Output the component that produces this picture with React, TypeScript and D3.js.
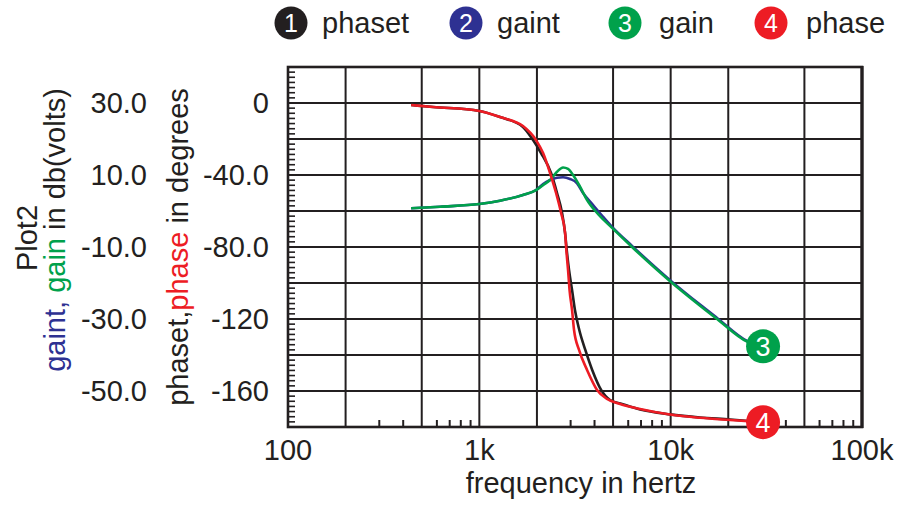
import React from "react";
import * as d3 from "d3";

// ---- data ----
const phasetFreq = [440, 573, 1000, 1282, 1690, 1909, 2101, 2370, 2547, 2706, 2806, 2873, 2943, 3052, 3160, 3330, 3580, 3890, 4330, 4823, 5570, 6920, 9930, 14240, 20460, 30400];
const phasetDeg = [-1.1, -2.2, -4.4, -7.8, -13.3, -20.6, -27.8, -38.9, -50, -61.1, -72.2, -83.3, -92.8, -103.9, -115, -126.1, -137.2, -148.3, -159.4, -165, -167.2, -170.3, -173, -174.7, -175.8, -177.3];

const phaseFreq = [440, 573, 1000, 1282, 1690, 1979, 2154, 2342, 2518, 2675, 2806, 2857, 2909, 2962, 3052, 3126, 3320, 3656, 4124, 4650, 5439, 6920, 9930, 14240, 20460, 30400];
const phaseDeg = [-1.1, -2.2, -4.4, -7.8, -12.8, -20.6, -27.8, -38.9, -50, -61.1, -72.2, -83.3, -92.8, -103.9, -115, -126.1, -137.2, -148.3, -159.4, -164.4, -167.2, -170, -173.1, -174.9, -176.1, -177.3];

const gainFreq = [440, 623, 1000, 1282, 1690, 1979, 2154, 2342, 2547, 2738, 2909, 3090, 3360, 3656, 4124, 4940, 6281, 9930, 14240, 17480, 25080, 30400];
const gainDb = [0.75, 1.2, 1.94, 2.86, 4.44, 5.83, 7.2, 8.6, 10.9, 12.1, 11.7, 10.0, 6.75, 3.06, -0.56, -4.7, -10, -19.5, -26.3, -30, -36.3, -37.6];

const gaintFreq = [440, 623, 1000, 1282, 1690, 1979, 2154, 2342, 2547, 2738, 2979, 3242, 3484, 3929, 4433, 4940, 6281, 9930, 14240, 17480, 25080, 30400];
const gaintDb = [0.75, 1.2, 1.94, 2.86, 4.44, 5.83, 7.5, 8.6, 9.25, 9.36, 8.9, 7.7, 5.0, 1.67, -1.6, -4.4, -9.7, -19.2, -26.0, -29.7, -36.1, -37.6];

const gainTicks = [30, 10, -10, -30, -50];
const gainTickLabels = ["30.0", "10.0", "-10.0", "-30.0", "-50.0"];
const phaseTicks = [0, -40, -80, -120, -160];
const phaseTickLabels = ["0", "-40.0", "-80.0", "-120", "-160"];
const freqTicks = [100, 1000, 10000, 100000];
const freqTickLabels = ["100", "1k", "10k", "100k"];
const freqGrid = [200, 500, 1000, 2000, 5000, 10000, 20000, 50000];
const freqMinor = [300, 400, 600, 700, 800, 900, 3000, 4000, 6000, 7000, 8000, 9000, 30000, 40000, 60000, 70000, 80000, 90000];
const gainGrid = [30, 20, 10, 0, -10, -20, -30, -40, -50];

const legendNames = ["phaset", "gaint", "gain", "phase"];
const legendColors = ["#231f20", "#2e3192", "#00a14b", "#ed1c24"];

const FONT = "'Liberation Sans', Arial, Helvetica, sans-serif";

export default function App() {
  const W = 907, H = 505;
  const L = 288, R = 862, T = 67, B = 427;
  const x = d3.scaleLog().domain([100, 100000]).range([L, R]);
  const yG = d3.scaleLinear().domain([-60, 40]).range([B, T]);
  const yP = d3.scaleLinear().domain([-180, 20]).range([B, T]);

  const lineG = d3.line<[number, number]>().x(d => x(d[0])).y(d => yG(d[1])).curve(d3.curveMonotoneX);
  const lineP = d3.line<[number, number]>().x(d => x(d[0])).y(d => yP(d[1])).curve(d3.curveMonotoneX);

  const zip = (a: number[], b: number[]) => a.map((v, i) => [v, b[i]] as [number, number]);
  const phasetPts = zip(phasetFreq, phasetDeg);
  const phasePts = zip(phaseFreq, phaseDeg);
  const gainPts = zip(gainFreq, gainDb);
  const gaintPts = zip(gaintFreq, gaintDb);

  // left minor ticks: 7 per 10 dB grid interval
  const minorLeft: number[] = [];
  for (let i = 0; i <= 70; i++) minorLeft.push(-60 + (i * 10) / 7);

  const gridColor = "#231f20";
  const lastGain = gainPts[gainPts.length - 1];
  const lastPhase = phasePts[phasePts.length - 1];

  const legendX = [291, 466, 625, 771];
  const legendTextX = [322, 497, 659, 806];

  return (
    <svg width={W} height={H} style={{ position: "absolute", left: 0, top: 0, background: "#fff" }} fontFamily={FONT}>
      <rect x={0} y={0} width={W} height={H} fill="#fff" />
      {/* legend */}
      {legendNames.map((n, i) => (
        <g key={n}>
          <circle cx={legendX[i]} cy={23} r={16.5} fill={legendColors[i]} />
          <text x={legendX[i]} y={23} dy="0.36em" textAnchor="middle" fill="#fff" fontSize={25}>{i + 1}</text>
          <text x={legendTextX[i]} y={33} fontSize={29} fill="#231f20">{n}</text>
        </g>
      ))}

      {/* grid */}
      {gainGrid.map(v => (
        <line key={"h" + v} x1={L} x2={R} y1={yG(v)} y2={yG(v)} stroke={gridColor} strokeWidth={2} />
      ))}
      {freqGrid.map(f => (
        <line key={"v" + f} x1={x(f)} x2={x(f)} y1={T} y2={B} stroke={gridColor} strokeWidth={2} />
      ))}
      {freqMinor.map(f => (
        <line key={"m" + f} x1={x(f)} x2={x(f)} y1={B} y2={B - 7} stroke={gridColor} strokeWidth={2} />
      ))}
      {minorLeft.map((v, i) => (
        <line key={"ml" + i} x1={L} x2={L + 7} y1={yG(v)} y2={yG(v)} stroke={gridColor} strokeWidth={1.6} />
      ))}
      <rect x={L} y={T} width={R - L} height={B - T} fill="none" stroke={gridColor} strokeWidth={2.6} />
      <line x1={R} x2={R} y1={T - 1} y2={B + 1} stroke={gridColor} strokeWidth={3.2} />

      {/* curves */}
      <path d={lineP(phasetPts) || ""} fill="none" stroke="#231f20" strokeWidth={2.6} />
      <path d={lineG(gaintPts) || ""} fill="none" stroke="#2e3192" strokeWidth={2.6} />
      <path d={lineG(gainPts) || ""} fill="none" stroke="#00a14b" strokeWidth={2.6} />
      <path d={lineP(phasePts) || ""} fill="none" stroke="#ed1c24" strokeWidth={2.6} />

      {/* end markers */}
      <g>
        <circle cx={x(lastGain[0])} cy={yG(lastGain[1])} r={17} fill="#00a14b" />
        <text x={x(lastGain[0])} y={yG(lastGain[1])} dy="0.36em" textAnchor="middle" fill="#fff" fontSize={27}>3</text>
        <circle cx={x(lastPhase[0])} cy={yP(lastPhase[1])} r={17} fill="#ed1c24" />
        <text x={x(lastPhase[0])} y={yP(lastPhase[1])} dy="0.36em" textAnchor="middle" fill="#fff" fontSize={27}>4</text>
      </g>

      {/* left tick labels */}
      {gainTicks.map((v, i) => (
        <text key={"gl" + v} x={147} y={yG(v)} dy="0.36em" textAnchor="end" fontSize={29} fill="#231f20">{gainTickLabels[i]}</text>
      ))}
      {phaseTicks.map((v, i) => (
        <text key={"pl" + v} x={269} y={yP(v)} dy="0.36em" textAnchor="end" fontSize={29} fill="#231f20">{phaseTickLabels[i]}</text>
      ))}
      {/* x tick labels */}
      {freqTicks.map((f, i) => (
        <text key={"xl" + f} x={x(f)} y={460} textAnchor="middle" fontSize={29} fill="#231f20">{freqTickLabels[i]}</text>
      ))}
      <text x={581} y={493} textAnchor="middle" fontSize={29} fill="#231f20">frequency in hertz</text>

      {/* y titles */}
      <text transform="translate(37,238) rotate(-90)" textAnchor="middle" fontSize={29} fill="#231f20">Plot2</text>
      <text transform="translate(65,230) rotate(-90)" textAnchor="middle" fontSize={29} fill="#231f20">
        <tspan fill="#2e3192">gaint, </tspan>
        <tspan fill="#00a14b">gain</tspan>
        <tspan> in db(volts)</tspan>
      </text>
      <text transform="translate(188,247) rotate(-90)" textAnchor="middle" fontSize={29} fill="#231f20">
        <tspan>phaset,</tspan>
        <tspan fill="#ed1c24">phase</tspan>
        <tspan> in degrees</tspan>
      </text>
    </svg>
  );
}
